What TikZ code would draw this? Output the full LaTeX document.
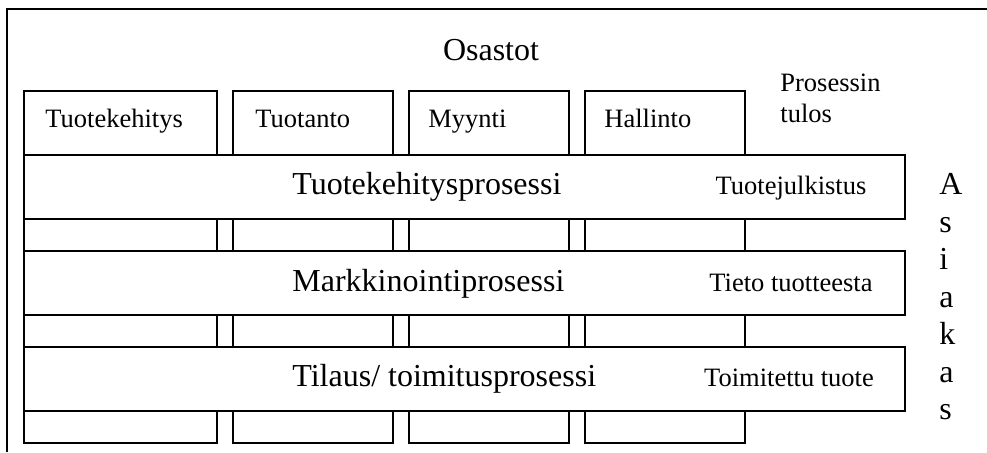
\documentclass[tikz,border=0pt]{standalone}
\usepackage{fontspec}
\setmainfont{Liberation Serif}

\begin{document}
\begin{tikzpicture}[x=0.5pt,y=-0.5pt,
        box/.style={draw,line width=0.8pt,inner sep=0pt,anchor=north west},
        osasto/.style={box,minimum width=80pt,minimum height=176pt},
        prosessi/.style={box,fill=white,minimum width=440.5pt,minimum height=32pt},
        pieni/.style={inner sep=0pt,font=\fontsize{13.25}{15.3}\selectfont},
        iso/.style={inner sep=0pt,font=\fontsize{16}{18.75}\selectfont}]
        \useasboundingbox (0,0) rectangle (987,452);
        % kehys (vain vasen ja ylareuna nakyvat)
        \draw[line width=0.8pt] (7,452) -- (7,9) -- (987,9);

        \node[iso,anchor=base] (otsikko) at (491,60) {Osastot};

        % osastot
        \node[osasto,minimum width=96.5pt] (kehitys) at (23,90) {};
        \node[osasto] (tuotanto) at (232,90) {};
        \node[osasto] (myynti) at (408,90) {};
        \node[osasto] (hallinto) at (584,90) {};

        \node[pieni,anchor=base west] at (45,127) {Tuotekehitys};
        \node[pieni,anchor=base west] at (255,127) {Tuotanto};
        \node[pieni,anchor=base west] at (428,127) {Myynti};
        \node[pieni,anchor=base west] at (604,127) {Hallinto};
        \node[pieni,anchor=north west,align=left] (tulos) at (780,74) {Prosessin\\tulos};

        % prosessit
        \node[prosessi] (p1) at (23,154) {};
        \node[prosessi] (p2) at (23,250) {};
        \node[prosessi] (p3) at (23,346) {};

        \node[iso,anchor=base west] at (292,194) {Tuotekehitysprosessi};
        \node[iso,anchor=base west] at (292,291) {Markkinointiprosessi};
        \node[iso,anchor=base west] at (292,386.5) {Tilaus/ toimitusprosessi};

        \node[pieni,anchor=base] at (791,194) {Tuotejulkistus};
        \node[pieni,anchor=base] at (791,291) {Tieto tuotteesta};
        \node[pieni,anchor=base] at (789,386) {Toimitettu tuote};

        \node[iso,anchor=north west,align=left] (asiakas) at (939,173) {A\\s\\i\\a\\k\\a\\s};
\end{tikzpicture}
\end{document}
